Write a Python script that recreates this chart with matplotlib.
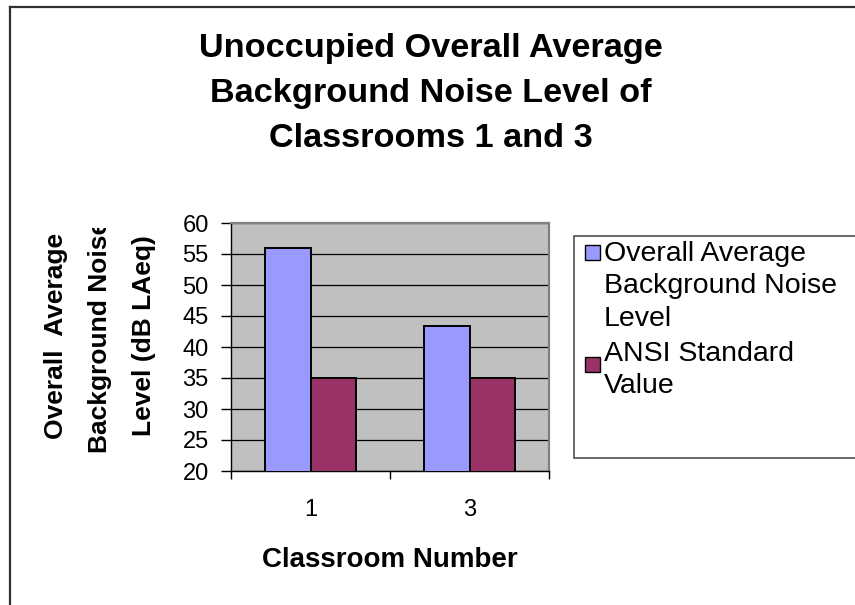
import matplotlib
matplotlib.use("Agg")
import matplotlib.pyplot as plt
from matplotlib.patches import Rectangle
from matplotlib.lines import Line2D
from matplotlib.transforms import Bbox, TransformedBbox

# Data
classrooms = ["1", "3"]
series_names = ["Overall Average\nBackground Noise\nLevel", "ANSI Standard\nValue"]
noise_level = [55.9, 43.4]
ansi_standard = [35, 35]
y_ticks = [20, 25, 30, 35, 40, 45, 50, 55, 60]

colors = ["#9999FF", "#993366"]
font = "Liberation Sans"
plt.rcParams["font.family"] = [font, "DejaVu Sans"]

W, H = 855, 605
fig = plt.figure(figsize=(W / 100, H / 100), dpi=100)
fig.patch.set_facecolor("white")

def fx(px):
    return px / W

def fy(py):
    return 1 - py / H

# Outer chart frame (extends past the right and bottom edges)
fig.add_artist(Line2D([fx(9.5), fx(9.5)], [fy(7), fy(H + 5)], color="#303030", lw=1.6))
fig.add_artist(Line2D([fx(9.5), fx(W + 5)], [fy(7), fy(7)], color="#303030", lw=1.6))

# Plot area
left, right, top, bottom = 231, 549, 223, 471
ax = fig.add_axes([fx(left), fy(bottom), (right - left) / W, (bottom - top) / H])
ax.set_facecolor("#C0C0C0")

x = list(range(len(classrooms)))
bw = 0.286
ax.bar([i - bw / 2 for i in x], noise_level, width=bw, bottom=0, color=colors[0],
       edgecolor="black", linewidth=1.4, zorder=3)
ax.bar([i + bw / 2 for i in x], ansi_standard, width=bw, bottom=0, color=colors[1],
       edgecolor="black", linewidth=1.4, zorder=3)

ax.set_ylim(20, 60)
ax.set_xlim(-0.5, len(classrooms) - 0.5)
ax.set_yticks(y_ticks)
ax.set_yticklabels([str(v) for v in y_ticks])
ax.yaxis.grid(True, color="black", lw=0.9, zorder=1)
ax.set_axisbelow(True)

# Category ticks at the boundaries, labels at the centres
ax.set_xticks([-0.5 + i for i in range(len(classrooms) + 1)])
ax.set_xticklabels([])
ax.set_xticks(x, minor=True)
ax.set_xticklabels(classrooms, minor=True)
ax.tick_params(axis="x", which="major", direction="out", length=6, width=1, color="black")
ax.tick_params(axis="x", which="minor", length=0, pad=20, labelsize=17)
ax.tick_params(axis="y", direction="out", length=7, width=1, pad=9, labelsize=17)

for s in ("left", "bottom"):
    ax.spines[s].set_color("black")
    ax.spines[s].set_linewidth(1.0)
for s in ("top", "right"):
    ax.spines[s].set_color("#808080")
    ax.spines[s].set_linewidth(1.6)

# Axis titles
ax.set_xlabel("Classroom Number", fontsize=20, fontweight="bold")
ax.xaxis.set_label_coords(0.5, (bottom - 567) / (bottom - top))
ax.xaxis.label.set_verticalalignment("baseline")

ylab = ax.set_ylabel("Overall  Average\nBackground Noise\nLevel (dB LAeq)", fontsize=19,
                     fontweight="bold", linespacing=2.03, multialignment="center")
ax.yaxis.set_label_coords((100 - left) / (right - left), (bottom - 336) / (bottom - top))
ylab.set_verticalalignment("center")
ylab.set_horizontalalignment("center")
ylab.set_clip_box(TransformedBbox(Bbox([[0, 0], [1, fy(228)]]), fig.transFigure))
ylab.set_clip_on(True)

# Chart title
fig.text(fx(431), fy(33), "Unoccupied Overall Average\nBackground Noise Level of\nClassrooms 1 and 3",
         ha="center", va="top", fontsize=24.7, fontweight="bold", linespacing=1.575,
         multialignment="center")

# Legend box
fig.add_artist(Rectangle((fx(574), fy(458)), fx(W + 10) - fx(574), fy(236) - fy(458),
                         transform=fig.transFigure, facecolor="white", edgecolor="#404040",
                         lw=1.1))
entry_tops = [241, 341]
square_tops = [245, 357]
for name, col, ttop, stop in zip(series_names, colors, entry_tops, square_tops):
    fig.add_artist(Rectangle((fx(585), fy(stop + 15)), fx(15), 15 / H,
                             transform=fig.transFigure, facecolor=col, edgecolor="black", lw=1.0))
    fig.text(fx(604), fy(ttop), name, ha="left", va="top", fontsize=20.5,
             linespacing=1.32)

fig.savefig("out.png", dpi=100)
